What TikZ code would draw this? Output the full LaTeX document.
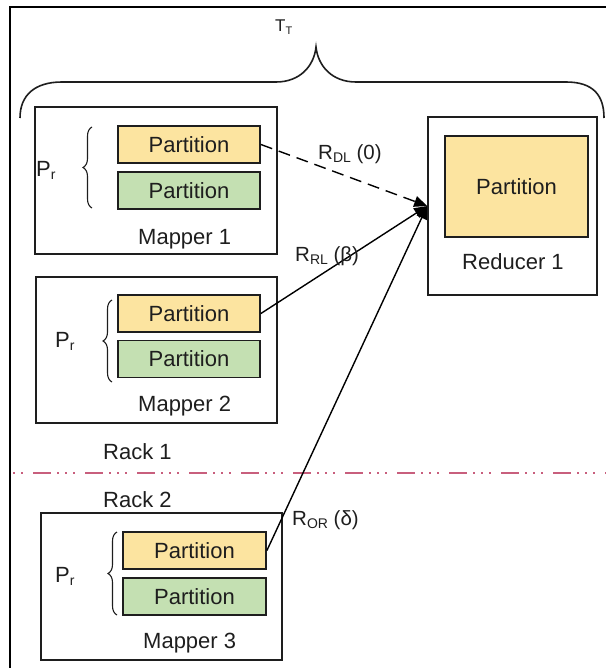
\documentclass[tikz,border=0pt]{standalone}
\usepackage{fontspec}
\setmainfont{Liberation Sans}
\usetikzlibrary{arrows.meta,decorations.pathreplacing}
\definecolor{yel}{RGB}{252,228,160}
\definecolor{grn}{RGB}{196,224,178}
\definecolor{ink}{RGB}{30,30,30}
\definecolor{rackline}{RGB}{200,95,125}
\newcommand\sbs[1]{\raisebox{-3pt}{\fontsize{14pt}{14pt}\selectfont #1}}
\newcommand\sbsT[1]{\raisebox{-2.5pt}{\fontsize{11pt}{11pt}\selectfont #1}}
\begin{document}
\begin{tikzpicture}[x=1pt,y=-1pt,
  mapbox/.style={draw=ink, line width=1.6pt, inner sep=0pt, minimum width=241pt, minimum height=147pt},
  part/.style={draw=ink, line width=1.8pt, inner sep=0pt, minimum width=142pt, minimum height=37pt, text=ink, font=\fontsize{22pt}{24pt}\selectfont},
  yp/.style={part, fill=yel},
  gp/.style={part, fill=grn},
  lbl/.style={anchor=base west, inner sep=0pt, text=ink, font=\fontsize{22pt}{26pt}\selectfont},
  rlbl/.style={anchor=base west, inner sep=0pt, text=ink, font=\fontsize{20.5pt}{24pt}\selectfont},
  pbrace/.style={draw=ink, line width=1.1pt, decorate, decoration={brace, amplitude=9pt}},
  conn/.style={draw=black, line width=1.4pt, -{Triangle[length=13pt,width=11pt]}}
]
\useasboundingbox (0,0) rectangle (606,668);
% outer frame (partly outside the picture)
\draw[line width=2.2pt, black] (10,668) -- (10,7) -- (606,7);
% top brace
\draw[ink, line width=1.6pt] (20,118) .. controls (20,95) and (35,82) .. (62,82) -- (276,82)
  .. controls (300,82) and (314,66) .. (316,47)
  .. controls (318,66) and (332,82) .. (356,82) -- (566,82)
  .. controls (593,82) and (604,95) .. (604,118);
\node[lbl, font=\fontsize{17pt}{20pt}\selectfont] (tt) at (275,32) {T\sbsT{T}};

% Mapper 1
\node[mapbox, minimum width=242pt] (m1) at (156,180.5) {};
\node[yp] (y1) at (189,144.5) {Partition};
\node[gp] (g1) at (189,190.5) {Partition};
\draw[pbrace] (92,208) -- (92,127);
\node[lbl] (p1) at (36,177) {P\sbs{r}};
\node[lbl] (ml1) at (138,244) {Mapper 1};

% Mapper 2
\node[mapbox, minimum height=146pt] (m2) at (156.5,350) {};
\node[yp] (y2) at (189,313.5) {Partition};
\node[gp] (g2) at (189,359) {Partition};
\draw[pbrace] (112,382) -- (112,300);
\node[lbl] (p2) at (55,347) {P\sbs{r}};
\node[lbl] (ml2) at (138,411) {Mapper 2};

% Rack separator
\node[lbl] (r1) at (103,459) {Rack 1};
\draw[rackline, line width=1.4pt, dash pattern=on 18pt off 6pt on 2pt off 6pt on 2pt off 6pt on 2pt off 10pt, dash phase=31pt] (12,473) -- (606,473);
\node[lbl] (r2) at (103,507) {Rack 2};

% Mapper 3
\node[mapbox] (m3) at (161.5,586.5) {};
\node[yp, minimum width=143pt] (y3) at (194.5,550.5) {Partition};
\node[gp, minimum width=143pt] (g3) at (194.5,596.5) {Partition};
\draw[pbrace] (117,615) -- (117,532);
\node[lbl] (p3) at (55,582) {P\sbs{r}};
\node[lbl] (ml3) at (143,648) {Mapper 3};

% Reducer
\node[mapbox, minimum width=169pt, minimum height=178pt] (red) at (512.5,206) {};
\node[yp, minimum width=143pt, minimum height=101pt] (rp) at (516.5,186.5) {Partition};
\node[lbl] (rl) at (462,269) {Reducer 1};

% connectors
\draw[conn, dash pattern=on 12pt off 7pt] (y1.east) -- (red.west);
\draw[conn] (y2.east) -- (red.west);
\draw[conn] (y3.east) -- (red.west);

% connector labels
\node[rlbl] (ldl) at (318,160) {R\sbs{DL} (0)};
\node[rlbl] (lrl) at (295,261) {R\sbs{RL} (β)};
\node[rlbl] (lor) at (292,525) {R\sbs{OR} (δ)};
\end{tikzpicture}
\end{document}
